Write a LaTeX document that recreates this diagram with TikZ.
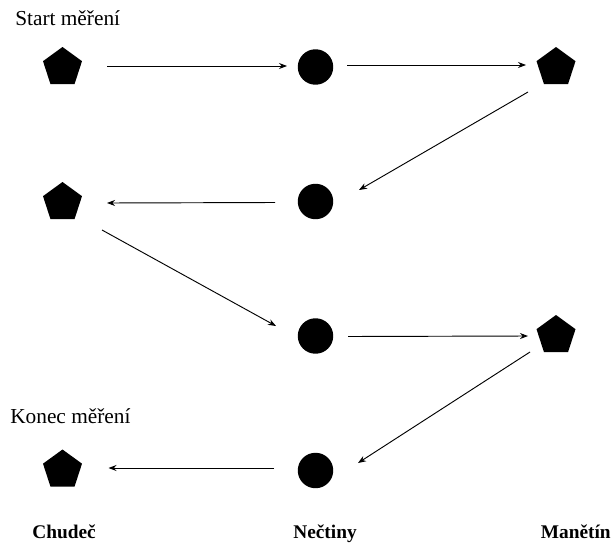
\documentclass[tikz,border=0pt]{standalone}
\usepackage{fontspec}
\setmainfont{Liberation Serif}
\usetikzlibrary{shapes.geometric,arrows.meta,calc}

\begin{document}
\begin{tikzpicture}[x=0.75pt,y=0.75pt,yscale=-1,xscale=1,
    town/.style={regular polygon,regular polygon sides=5,fill=black,minimum size=30.75pt,inner sep=0pt},
    stop/.style={circle,fill=black,minimum size=26.6pt,inner sep=0pt},
    route/.style={-{Stealth[length=6pt,width=4.5pt]},line width=0.7pt},
    note/.style={font=\fontsize{16}{19}\selectfont,inner sep=0pt},
    place/.style={font=\bfseries\fontsize{14.5}{17}\selectfont,inner sep=0pt}]
    \useasboundingbox (0,0) rectangle (613,546);

    %Shape: Pentagons (Chudec, Manetin)
    \node [town] (chud1) at (62.5,67.5) {};
    \node [town] (man1) at (556,67.5) {};
    \node [town] (chud2) at (62.5,202.5) {};
    \node [town] (man2) at (556,335.5) {};
    \node [town] (chud3) at (62.5,470) {};
    %Shape: Circles (Nectiny)
    \node [stop] (nec1) at (315.5,67) {};
    \node [stop] (nec2) at (315.5,201.5) {};
    \node [stop] (nec3) at (315.5,336) {};
    \node [stop] (nec4) at (315.5,470.5) {};

    %Straight Lines
    \draw [route] ($(chud1)+(44.5,-1.5)$) -- ($(nec1)+(-28.5,-1)$);
    \draw [route] ($(nec1)+(31.5,-2)$) -- ($(man1)+(-30,-2.5)$);
    \draw [route] ($(man1)+(-28,24.5)$) -- ($(nec2)+(43.5,-11.5)$);
    \draw [route] ($(nec2)+(-40.5,1)$) -- ($(chud2)+(44.5,0.5)$);
    \draw [route] ($(chud2)+(39.5,27.5)$) -- ($(nec3)+(-39.5,-10)$);
    \draw [route] ($(nec3)+(32.5,0.5)$) -- ($(man2)+(-28,0.5)$);
    \draw [route] ($(man2)+(-26,16.5)$) -- ($(nec4)+(42.5,-7.5)$);
    \draw [route] ($(nec4)+(-41.5,-2.5)$) -- ($(chud3)+(46,-2)$);

    % Text Node
    \node [note,anchor=base west] (start) at (15,25) {Start měření};
    % Text Node
    \node [note,anchor=base west] (konec) at (10,423) {Konec měření};
    % Text Node
    \node [place,anchor=base] (chudec) at (64,538) {Chudeč};
    % Text Node
    \node [place,anchor=base] (nectiny) at (325,538) {Nečtiny};
    % Text Node
    \node [place,anchor=base east] (manetin) at (611,538) {Manětín};
\end{tikzpicture}
\end{document}
